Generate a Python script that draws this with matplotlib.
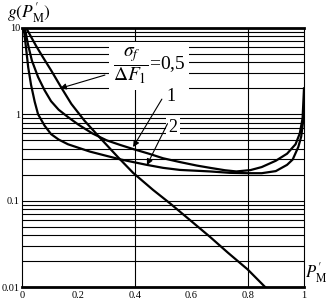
import matplotlib
matplotlib.use('Agg')
import matplotlib.pyplot as plt
from matplotlib.ticker import FixedLocator, FixedFormatter, LogLocator, NullFormatter

plt.rcParams['font.family'] = 'serif'
plt.rcParams['font.serif'] = ['Liberation Serif', 'DejaVu Serif']
plt.rcParams['mathtext.fontset'] = 'stix'

# curve sigma_f/dF1 = 0.5
x_05 = [0.015, 0.033, 0.05, 0.074, 0.104, 0.139, 0.175, 0.222, 0.28, 0.34,
        0.394, 0.465, 0.525, 0.6, 0.667, 0.73, 0.80, 0.862]
g_05 = [10.0, 7.8, 6.2, 4.6, 3.2, 2.05, 1.32, 0.84, 0.52, 0.32,
        0.21, 0.133, 0.093, 0.058, 0.038, 0.025, 0.016, 0.01]

# curve 1
x_1 = [0.01, 0.021, 0.035, 0.057, 0.08, 0.103, 0.13, 0.163, 0.2, 0.25, 0.3,
       0.35, 0.39, 0.45, 0.5, 0.56, 0.62, 0.667, 0.72, 0.76, 0.81, 0.85,
       0.9, 0.94, 0.97, 0.985, 0.995, 1.0]
g_1 = [10.0, 6.5, 4.2, 2.7, 1.9, 1.42, 1.13, 0.93, 0.76, 0.6, 0.5,
       0.44, 0.40, 0.35, 0.31, 0.28, 0.255, 0.24, 0.225, 0.218, 0.226, 0.245,
       0.29, 0.35, 0.45, 0.6, 0.9, 2.0]

# curve 2
x_2 = [0.006, 0.014, 0.022, 0.032, 0.045, 0.057, 0.08, 0.103, 0.13, 0.163,
       0.2, 0.241, 0.3, 0.35, 0.442, 0.5, 0.56, 0.62, 0.667, 0.738, 0.8,
       0.85, 0.9, 0.94, 0.96, 0.98, 0.99, 1.0]
g_2 = [10.0, 6.0, 3.5, 2.2, 1.4, 1.0, 0.74, 0.59, 0.51, 0.45,
       0.41, 0.37, 0.33, 0.30, 0.26, 0.24, 0.227, 0.222, 0.218, 0.21, 0.208,
       0.208, 0.22, 0.26, 0.30, 0.42, 0.55, 1.0]

x_ticks = [0, 0.2, 0.4, 0.6, 0.8, 1]
x_tick_labels = ['0', '0.2', '0.4', '0.6', '0.8', '1']
y_ticks = [0.01, 0.1, 1, 10]
y_tick_labels = ['0.01', '0.1', '1', '10']
x_grid = [0.4, 0.8]

fig = plt.figure(figsize=(3.26, 3.03), dpi=100)
ax = fig.add_axes([0.0675, 0.0528, 0.865, 0.8548])
ax.set_yscale('log')
ax.set_xlim(0, 1)
ax.set_ylim(0.01, 10)

# grid: every log line horizontally, only two vertical lines
ax.yaxis.set_major_locator(FixedLocator(y_ticks))
ax.yaxis.set_major_formatter(FixedFormatter(y_tick_labels))
ax.yaxis.set_minor_locator(LogLocator(base=10, subs=range(2, 10)))
ax.yaxis.set_minor_formatter(NullFormatter())
ax.grid(axis='y', which='both', color='black', lw=0.8)
for xv in x_grid:
    ax.axvline(xv, color='black', lw=0.8)

ax.xaxis.set_major_locator(FixedLocator(x_ticks))
ax.xaxis.set_major_formatter(FixedFormatter(x_tick_labels))
ax.tick_params(which='both', length=0, labelsize=7.5)
ax.tick_params(axis='y', pad=1.5)
ax.tick_params(axis='x', pad=3)

for s in ['top', 'bottom']:
    ax.spines[s].set_linewidth(2.0)
for s in ['left', 'right']:
    ax.spines[s].set_linewidth(0.8)

ax.plot(x_05, g_05, color='black', lw=1.6)
ax.plot(x_1, g_1, color='black', lw=1.6)
ax.plot(x_2, g_2, color='black', lw=1.6)

box = dict(boxstyle='square,pad=0.15', fc='white', ec='none')
arrow = dict(arrowstyle='-|>', color='black', lw=0.8, mutation_scale=9, shrinkA=0, shrinkB=0)

ax.text(0.45, 3.6, r'$\dfrac{\sigma_f}{\Delta F_1}$=0,5', fontsize=14,
        ha='center', va='center', bbox=dict(boxstyle='square,pad=0.2', fc='white', ec='none'))
ax.annotate('', xy=(0.135, 2.0), xytext=(0.294, 2.85), arrowprops=arrow)

ax.text(0.528, 1.59, '1', fontsize=13, ha='center', va='center', bbox=box)
ax.annotate('', xy=(0.394, 0.418), xytext=(0.496, 1.5), arrowprops=arrow)

ax.text(0.535, 0.70, '2', fontsize=13, ha='center', va='center', bbox=box)
ax.annotate('', xy=(0.443, 0.258), xytext=(0.516, 0.78), arrowprops=arrow)

fig.text(0.02, 1.0, r"$g(P^{\prime}_{\mathrm{M}})$", fontsize=12.5, ha='left', va='top')
fig.text(0.935, 0.058, r"$P^{\prime}_{\mathrm{M}}$", fontsize=12, ha='left', va='bottom')

fig.savefig('out.png', dpi=100)
